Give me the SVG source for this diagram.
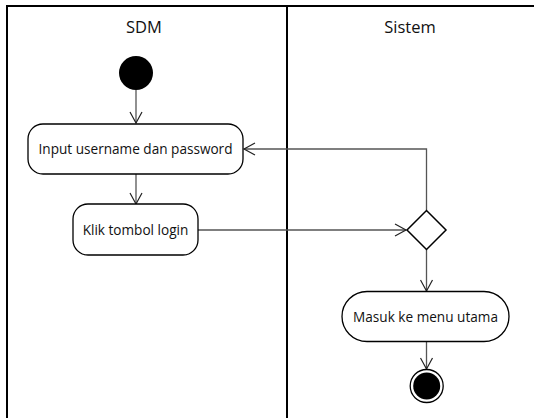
<svg xmlns="http://www.w3.org/2000/svg" width="534" height="418" viewBox="0 0 534 418">
<defs>
<style>
.lane{fill:none;stroke:#000;stroke-width:2}
.act{fill:#fff;stroke:#000;stroke-width:1.3}
.lbl{font-family:"Open Sans","Liberation Sans",sans-serif;font-size:13.6px;fill:#111;text-anchor:middle}
.hdr{font-family:"Open Sans","Liberation Sans",sans-serif;font-size:16.5px;fill:#111;text-anchor:middle}
.con{fill:none;stroke:#555;stroke-width:1.3}
</style>
<marker id="arr" markerWidth="14" markerHeight="14" refX="12" refY="7" orient="auto" markerUnits="userSpaceOnUse">
<path d="M1,1 L12,7 L1,13" fill="none" stroke="#222" stroke-width="1.2"/>
</marker>
</defs>
<rect width="534" height="418" fill="#fff"/>
<g id="swimlanes">
<path class="lane" d="M7,420 V6 H536 M287,6 V420"/>
<text class="hdr" x="144" y="33">SDM</text>
<text class="hdr" x="410" y="33">Sistem</text>
</g>
<g id="connectors">
<path class="con" d="M136,90 V123" marker-end="url(#arr)"/>
<path class="con" d="M136,174 V204" marker-end="url(#arr)"/>
<path class="con" d="M198,230 H406" marker-end="url(#arr)"/>
<path class="con" d="M426.5,210 V149 H244" marker-end="url(#arr)"/>
<path class="con" d="M426.5,249 V291" marker-end="url(#arr)"/>
<path class="con" d="M426.5,342 V369" marker-end="url(#arr)"/>
</g>
<g id="start"><circle cx="136" cy="73" r="17" fill="#000"/></g>
<g id="input"><rect class="act" x="28" y="124" width="215" height="50" rx="15"/><text class="lbl" x="135.5" y="154">Input username dan password</text></g>
<g id="klik"><rect class="act" x="73" y="204" width="125" height="51" rx="15"/><text class="lbl" x="135.5" y="234.5">Klik tombol login</text></g>
<g id="decision"><path d="M426.5,210.5 L446,230 L426.5,249.5 L407,230 Z" fill="#fff" stroke="#000" stroke-width="1.5"/></g>
<g id="masuk"><rect class="act" x="342" y="291.5" width="167" height="50" rx="25"/><text class="lbl" x="425.5" y="321.5">Masuk ke menu utama</text></g>
<g id="end"><circle cx="426.7" cy="386" r="16.5" fill="#fff" stroke="#000" stroke-width="1.3"/><circle cx="426.7" cy="386" r="13.5" fill="#000"/></g>
</svg>
